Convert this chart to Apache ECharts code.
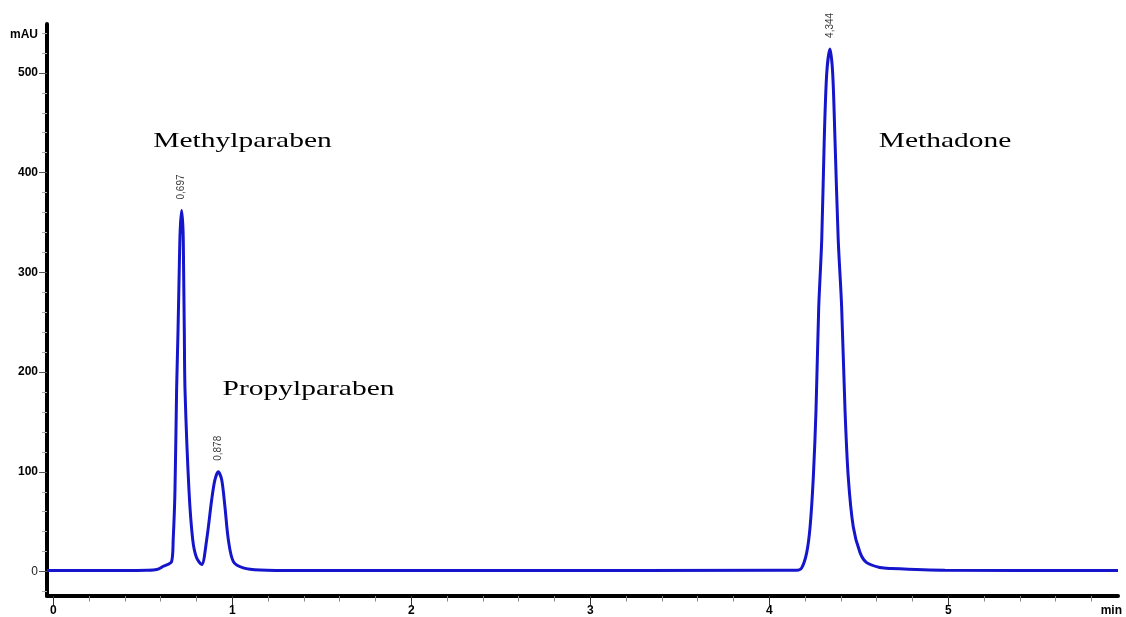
<!DOCTYPE html>
<html>
<head>
<meta charset="utf-8">
<script src="https://cdn.jsdelivr.net/npm/echarts@6/dist/echarts.min.js"></script>
<style>
html,body{margin:0;padding:0;background:#fff;}
#chart{width:1126px;height:617px;}
</style>
</head>
<body>
<div id="chart"></div>
<script>
// Retention time (min) and absorbance (mAU)
const timeMin = [
  -0.035, 0.25, 0.523, 0.578, 0.615, 0.661, 0.670, 0.680, 0.689, 0.697, 0.704, 0.709,
  0.717, 0.725, 0.728, 0.732, 0.736, 0.758, 0.779, 0.800, 0.829, 0.857, 0.885,
  0.903, 0.922, 0.941, 0.959, 0.978, 1.006, 1.061, 1.155, 1.378, 2.5,
  4.060, 4.153, 4.181, 4.209, 4.228, 4.246, 4.261, 4.276, 4.293, 4.307, 4.321,
  4.339, 4.354, 4.367, 4.385, 4.404, 4.423, 4.441, 4.469, 4.507, 4.544, 4.619,
  4.675, 4.981, 5.948
];
const signal = [
  1, 1, 1.3, 2, 5.3, 10, 32, 82, 182, 242, 305, 342,
  362, 342, 305, 242, 182, 82, 32, 14, 7, 32, 72,
  92, 100, 92, 65, 32, 10, 3.7, 1.5, 1, 1,
  1.3, 1.3, 3.7, 19, 45, 95, 162, 264, 333, 433, 500,
  524, 500, 433, 333, 266, 162, 95, 45, 19, 9, 4,
  3, 1.3, 1
];
// Peak apexes (as drawn) and their printed retention-time labels
const peakTime = [0.717, 0.922, 4.339];
const peakHeight = [362, 100, 524];
const peakLabels = ['0,697', '0,878', '4,344'];
// Compound names
const compounds = ['Methylparaben', 'Propylparaben', 'Methadone'];
// Axis ticks
const yMajor = [0, 100, 200, 300, 400, 500];
const yMinor = [-20, 0, 20, 40, 60, 80, 100, 120, 140, 160, 180, 200, 220, 240, 260, 280, 300, 320, 340, 360, 380, 400, 420, 440, 460, 480, 500, 520, 540];
const xMajor = [0, 1, 2, 3, 4, 5];
const xMinor = [0, 0.2, 0.4, 0.6, 0.8, 1, 1.2, 1.4, 1.6, 1.8, 2, 2.2, 2.4, 2.6, 2.8, 3, 3.2, 3.4, 3.6, 3.8, 4, 4.2, 4.4, 4.6, 4.8, 5, 5.2, 5.4, 5.6, 5.8];

const trace = timeMin.map((t, i) => [t, signal[i]]);
const peaks = peakTime.map((t, i) => [t, peakHeight[i]]);

const X_MIN = -0.035, X_MAX = 5.948, Y_MIN = -24.5, Y_MAX = 549;
const sans = 'Liberation Sans, Arial, sans-serif';
const serif = 'Liberation Serif, serif';

const chart = echarts.init(document.getElementById('chart'), null, {renderer: 'canvas'});
chart.setOption({
  animation: false,
  backgroundColor: '#ffffff',
  grid: {left: 47, right: 8, top: 24, bottom: 20.5, containLabel: false},
  xAxis: [
    {
      type: 'value', min: X_MIN, max: X_MAX, position: 'bottom',
      axisLine: {show: true, onZero: false, lineStyle: {color: '#000', width: 4}},
      axisTick: {show: true, customValues: xMinor, length: 5.5, lineStyle: {color: '#888', width: 1}},
      axisLabel: {show: false},
      splitLine: {show: false}
    },
    {
      type: 'value', min: X_MIN, max: X_MAX, position: 'bottom',
      axisLine: {show: false, onZero: false},
      axisTick: {show: true, customValues: xMajor, length: 9.5, lineStyle: {color: '#333', width: 1}},
      axisLabel: {show: true, customValues: xMajor, margin: 9, color: '#000', fontSize: 12, fontWeight: 'bold', fontFamily: sans},
      splitLine: {show: false}
    }
  ],
  yAxis: [
    {
      type: 'value', min: Y_MIN, max: Y_MAX, position: 'left',
      axisLine: {show: true, onZero: false, lineStyle: {color: '#000', width: 4}},
      axisTick: {show: true, customValues: yMinor, length: 5, lineStyle: {color: '#aaa', width: 1}},
      axisLabel: {show: false},
      splitLine: {show: false}
    },
    {
      type: 'value', min: Y_MIN, max: Y_MAX, position: 'left',
      axisLine: {show: false, onZero: false},
      axisTick: {show: true, customValues: yMajor, length: 8, lineStyle: {color: '#555', width: 1}},
      axisLabel: {
        show: true, customValues: yMajor, margin: 9, color: '#000', fontSize: 12, fontWeight: 'bold', fontFamily: sans,
        formatter: v => v === 0 ? '{z|0}' : String(v),
        rich: {z: {fontSize: 12, fontWeight: 'normal', color: '#222', fontFamily: sans}}
      },
      splitLine: {show: false}
    }
  ],
  series: [
    {
      type: 'line', xAxisIndex: 0, yAxisIndex: 0, data: trace,
      showSymbol: false, symbol: 'none', smooth: 0.3,
      lineStyle: {color: '#1515cc', width: 3}, z: 3
    },
    {
      type: 'scatter', xAxisIndex: 0, yAxisIndex: 0, data: peaks,
      symbolSize: 0, silent: true, z: 4,
      label: {
        show: true, position: 'top', distance: 11, rotate: 90,
        align: 'left', verticalAlign: 'middle',
        formatter: p => peakLabels[p.dataIndex],
        fontSize: 10, color: '#000', fontFamily: sans
      }
    }
  ],
  graphic: [
    {type: 'text', x: 10, y: 35, style: {text: 'mAU', fontSize: 12, fontWeight: 'bold', fontFamily: sans, fill: '#000', textAlign: 'left', textVerticalAlign: 'middle'}},
    {type: 'text', x: 1122, y: 611, style: {text: 'min', fontSize: 12, fontWeight: 'bold', fontFamily: sans, fill: '#000', textAlign: 'right', textVerticalAlign: 'middle'}},
    {type: 'text', x: 242.5, y: 141, scaleX: 1.34, style: {text: compounds[0], fontSize: 22, fontFamily: serif, fill: '#000', textAlign: 'center', textVerticalAlign: 'middle'}},
    {type: 'text', x: 308.5, y: 389, scaleX: 1.34, style: {text: compounds[1], fontSize: 22, fontFamily: serif, fill: '#000', textAlign: 'center', textVerticalAlign: 'middle'}},
    {type: 'text', x: 945, y: 141, scaleX: 1.34, style: {text: compounds[2], fontSize: 22, fontFamily: serif, fill: '#000', textAlign: 'center', textVerticalAlign: 'middle'}}
  ]
});
</script>
</body>
</html>
